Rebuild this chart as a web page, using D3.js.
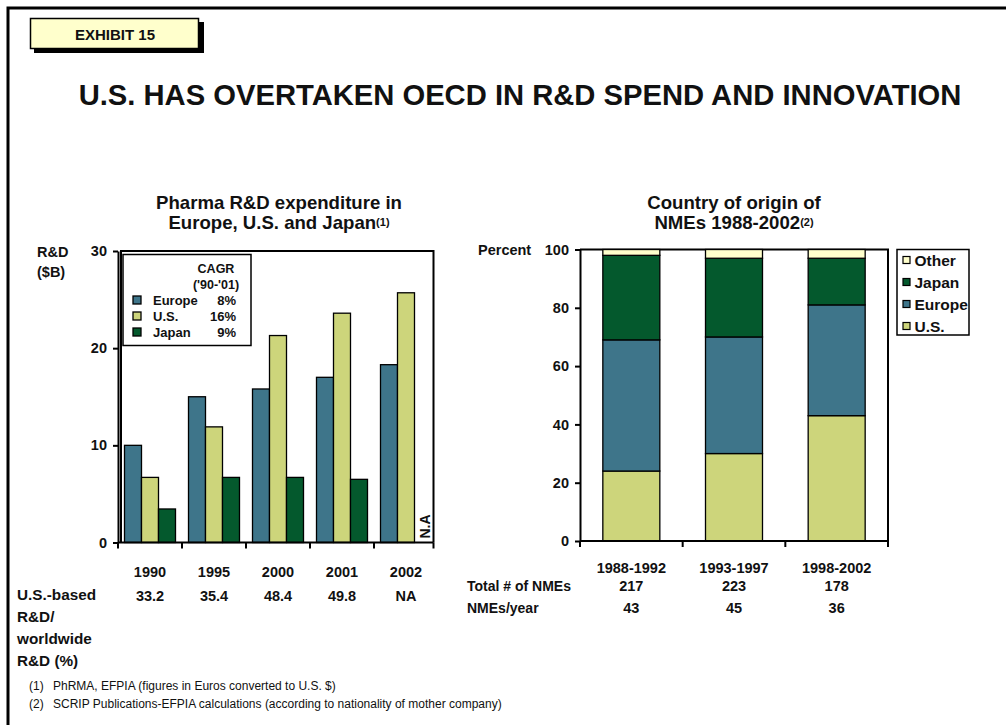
<!DOCTYPE html>
<html>
<head>
<meta charset="utf-8">
<script src="https://cdn.jsdelivr.net/npm/d3@7/dist/d3.min.js"></script>
<style>
  html, body { margin: 0; padding: 0; background: #fff; }
  svg { display: block; }
  text { font-family: "Liberation Sans", Arial, sans-serif; fill: #111; }
  .b { font-weight: bold; }
</style>
</head>
<body>
<svg id="chart" width="1006" height="725"></svg>
<script>
// ---- R&D expenditure ($B) ----
const years = ["1990", "1995", "2000", "2001", "2002"];
const europeSpend = [10.0, 15.0, 15.8, 17.0, 18.3];
const usSpend = [6.7, 11.9, 21.3, 23.6, 25.7];
const japanSpend = [3.45, 6.7, 6.7, 6.5, null];
const spendSeries = ["Europe", "U.S.", "Japan"];
const cagrLabels = ["8%", "16%", "9%"];
const usShareOfWorld = ["33.2", "35.4", "48.4", "49.8", "NA"];
const spendTicks = [0, 10, 20, 30];

// ---- Country of origin of NMEs (%) ----
const periods = ["1988-1992", "1993-1997", "1998-2002"];
const originUS = [24, 30, 43];
const originEurope = [45, 40, 38];
const originJapan = [29, 27, 16];
const originOther = [2, 3, 3];
const originSeries = ["U.S.", "Europe", "Japan", "Other"];
const totalNMEs = ["217", "223", "178"];
const nmesPerYear = ["43", "45", "36"];
const originTicks = [0, 20, 40, 60, 80, 100];

const colors = {
  "Europe": "#3e758a",
  "U.S.": "#cdd57b",
  "Japan": "#04592d",
  "Other": "#ffffcc"
};

const svg = d3.select("#chart");

// page frame (top and left rules)
svg.append("path").attr("d", "M8,725 L8,8 L1006,8")
  .attr("fill", "none").attr("stroke", "#000").attr("stroke-width", 3);

// exhibit tag with drop shadow
svg.append("rect").attr("x", 34).attr("y", 22).attr("width", 170).attr("height", 31).attr("fill", "#000");
svg.append("rect").attr("x", 30.5).attr("y", 18.5).attr("width", 168).attr("height", 30)
  .attr("fill", "#ffffcc").attr("stroke", "#000").attr("stroke-width", 1.5);
svg.append("text").attr("class", "b").attr("x", 115).attr("y", 40)
  .attr("text-anchor", "middle").attr("font-size", 15).text("EXHIBIT 15");

// headline
svg.append("text").attr("class", "b").attr("x", 520).attr("y", 104.5)
  .attr("text-anchor", "middle").attr("font-size", 29.2)
  .text("U.S. HAS OVERTAKEN OECD IN R&D SPEND AND INNOVATION");

function subtitle(cx, line1, line2, note) {
  const g = svg.append("g");
  g.append("text").attr("class", "b").attr("x", cx).attr("y", 209)
    .attr("text-anchor", "middle").attr("font-size", 18.6).text(line1);
  const t = g.append("text").attr("class", "b").attr("x", cx).attr("y", 229)
    .attr("text-anchor", "middle").attr("font-size", 18.6);
  t.append("tspan").text(line2);
  t.append("tspan").attr("font-size", 11).attr("dy", -3).text(note);
}
subtitle(279, "Pharma R&D expenditure in", "Europe, U.S. and Japan", "(1)");
subtitle(734, "Country of origin of", "NMEs 1988-2002", "(2)");

const labelSize = 14.5;

// ================= left chart: grouped bars =================
const yL = d3.scaleLinear().domain([0, 30]).range([542.5, 251]);
const x0L = d3.scaleBand().domain(years).range([118, 438]).padding(0);
const x1L = d3.scaleBand().domain(spendSeries).range([6.5, 57.5]).padding(0);

const spendRows = years.map((yr, i) => ({
  year: yr,
  values: [
    { key: "Europe", v: europeSpend[i] },
    { key: "U.S.", v: usSpend[i] },
    { key: "Japan", v: japanSpend[i] }
  ]
}));

const left = svg.append("g");

// plot frame
left.append("path").attr("d", `M121,${yL(0)} L121,${yL(30)} L433.5,${yL(30)} L433.5,${yL(0)}`)
  .attr("fill", "none").attr("stroke", "#000").attr("stroke-width", 2);

left.selectAll("g.grp").data(spendRows).join("g").attr("class", "grp")
  .attr("transform", d => `translate(${x0L(d.year)},0)`)
  .selectAll("rect").data(d => d.values.filter(v => v.v != null)).join("rect")
  .attr("x", d => x1L(d.key))
  .attr("width", x1L.bandwidth())
  .attr("y", d => yL(d.v))
  .attr("height", d => yL(0) - yL(d.v))
  .attr("fill", d => colors[d.key])
  .attr("stroke", "#000").attr("stroke-width", 1.3);

// missing Japan value for 2002
left.append("text").attr("class", "b").attr("font-size", 14)
  .attr("transform", `translate(${x0L("2002") + x1L("Japan") + x1L.bandwidth() / 2 + 6.5},${yL(0) - 4}) rotate(-90)`)
  .text("N.A");

// y axis
const yAxisL = left.append("g").attr("transform", "translate(118,0)")
  .call(d3.axisLeft(yL).tickValues(spendTicks).tickSize(5).tickSizeOuter(0).tickPadding(6));
yAxisL.select(".domain").attr("stroke-width", 2);
yAxisL.selectAll(".tick line").attr("stroke-width", 2);
yAxisL.selectAll("text").attr("class", "b").attr("font-size", labelSize)
  .attr("font-family", "Liberation Sans, Arial, sans-serif").attr("fill", "#111");

// x axis with ticks at category boundaries
left.append("line").attr("x1", 118).attr("x2", 433.5).attr("y1", yL(0)).attr("y2", yL(0))
  .attr("stroke", "#000").attr("stroke-width", 2);
const boundsL = years.map(d => x0L(d)).concat([433.5]);
left.selectAll("line.xt").data(boundsL).join("line").attr("class", "xt")
  .attr("x1", d => d).attr("x2", d => d).attr("y1", yL(0)).attr("y2", yL(0) + 6)
  .attr("stroke", "#000").attr("stroke-width", 2);

left.append("text").attr("class", "b").attr("x", 37).attr("y", 257).attr("font-size", labelSize).text("R&D");
left.append("text").attr("class", "b").attr("x", 37).attr("y", 277).attr("font-size", labelSize).text("($B)");

// legend
const legL = left.append("g");
legL.append("rect").attr("x", 123).attr("y", 254.5).attr("width", 128).attr("height", 91)
  .attr("fill", "#fff").attr("stroke", "#000").attr("stroke-width", 1.5);
legL.append("text").attr("class", "b").attr("x", 216).attr("y", 273).attr("text-anchor", "middle")
  .attr("font-size", 12.5).text("CAGR");
legL.append("text").attr("class", "b").attr("x", 216).attr("y", 289).attr("text-anchor", "middle")
  .attr("font-size", 12.5).text("('90-'01)");
const legRowsL = legL.selectAll("g.row").data(spendSeries).join("g").attr("class", "row")
  .attr("transform", (d, i) => `translate(0,${[300.5, 316.5, 332.5][i]})`);
legRowsL.append("rect").attr("x", 133).attr("y", -4.5).attr("width", 8).attr("height", 8)
  .attr("fill", d => colors[d]).attr("stroke", "#000").attr("stroke-width", 1.3);
legRowsL.append("text").attr("class", "b").attr("x", 153).attr("y", 4.5).attr("font-size", 13).text(d => d);
legRowsL.append("text").attr("class", "b").attr("x", 236).attr("y", 4.5).attr("text-anchor", "end")
  .attr("font-size", 13).text((d, i) => cagrLabels[i]);

// table under the chart
left.selectAll("text.yr").data(years).join("text").attr("class", "yr b")
  .attr("x", d => x0L(d) + x0L.bandwidth() / 2).attr("y", 577)
  .attr("text-anchor", "middle").attr("font-size", labelSize).text(d => d);
left.selectAll("text.share").data(usShareOfWorld).join("text").attr("class", "share b")
  .attr("x", (d, i) => x0L(years[i]) + x0L.bandwidth() / 2).attr("y", 601)
  .attr("text-anchor", "middle").attr("font-size", labelSize).text(d => d);
["U.S.-based", "R&D/", "worldwide", "R&D (%)"].forEach((s, i) => {
  left.append("text").attr("class", "b").attr("x", 17).attr("y", 600 + i * 22)
    .attr("font-size", 15.3).text(s);
});

// ================= right chart: stacked percent bars =================
const yR = d3.scaleLinear().domain([0, 100]).range([541, 249.5]);
const xR = d3.scaleBand().domain(periods).range([580, 888]).padding(0);
const barW = 57;

const originRows = periods.map((p, i) => ({
  period: p,
  "U.S.": originUS[i],
  "Europe": originEurope[i],
  "Japan": originJapan[i],
  "Other": originOther[i]
}));
const stacked = d3.stack().keys(originSeries)(originRows);

const right = svg.append("g");
right.append("path").attr("d", `M580,${yR(100)} L888,${yR(100)} L888,${yR(0)}`)
  .attr("fill", "none").attr("stroke", "#000").attr("stroke-width", 2);

right.selectAll("g.layer").data(stacked).join("g").attr("class", "layer")
  .attr("fill", d => colors[d.key])
  .selectAll("rect").data(d => d).join("rect")
  .attr("x", d => xR(d.data.period) + (xR.bandwidth() - barW) / 2)
  .attr("width", barW)
  .attr("y", d => yR(d[1]))
  .attr("height", d => yR(d[0]) - yR(d[1]))
  .attr("stroke", "#000").attr("stroke-width", 1.3);

const yAxisR = right.append("g").attr("transform", "translate(580,0)")
  .call(d3.axisLeft(yR).tickValues(originTicks).tickSize(5).tickSizeOuter(0).tickPadding(6));
yAxisR.select(".domain").attr("stroke-width", 2);
yAxisR.selectAll(".tick line").attr("stroke-width", 2);
yAxisR.selectAll("text").attr("class", "b").attr("font-size", labelSize)
  .attr("font-family", "Liberation Sans, Arial, sans-serif").attr("fill", "#111");

right.append("line").attr("x1", 580).attr("x2", 888).attr("y1", yR(0)).attr("y2", yR(0))
  .attr("stroke", "#000").attr("stroke-width", 2);
const boundsR = periods.map(d => xR(d)).concat([888]);
right.selectAll("line.xt").data(boundsR).join("line").attr("class", "xt")
  .attr("x1", d => d).attr("x2", d => d).attr("y1", yR(0)).attr("y2", yR(0) + 6)
  .attr("stroke", "#000").attr("stroke-width", 2);

right.append("text").attr("class", "b").attr("x", 478).attr("y", 255).attr("font-size", labelSize).text("Percent");

// legend (top entry first)
const legR = right.append("g");
legR.append("rect").attr("x", 897).attr("y", 249.5).attr("width", 72).attr("height", 85.5)
  .attr("fill", "#fff").attr("stroke", "#000").attr("stroke-width", 1.5);
const legOrder = originSeries.slice().reverse();
const legRowsR = legR.selectAll("g.row").data(legOrder).join("g").attr("class", "row")
  .attr("transform", (d, i) => `translate(0,${260 + i * 22})`);
legRowsR.append("rect").attr("x", 903).attr("y", -3.5).attr("width", 7).attr("height", 7)
  .attr("fill", d => colors[d]).attr("stroke", "#000").attr("stroke-width", 1.2);
legRowsR.append("text").attr("class", "b").attr("x", 914.5).attr("y", 5.5).attr("font-size", 15.5).text(d => d);

// table under the chart
right.selectAll("text.per").data(periods).join("text").attr("class", "per b")
  .attr("x", d => xR(d) + xR.bandwidth() / 2).attr("y", 573)
  .attr("text-anchor", "middle").attr("font-size", labelSize).text(d => d);
right.selectAll("text.tot").data(totalNMEs).join("text").attr("class", "tot b")
  .attr("x", (d, i) => xR(periods[i]) + xR.bandwidth() / 2).attr("y", 591)
  .attr("text-anchor", "middle").attr("font-size", labelSize).text(d => d);
right.selectAll("text.py").data(nmesPerYear).join("text").attr("class", "py b")
  .attr("x", (d, i) => xR(periods[i]) + xR.bandwidth() / 2).attr("y", 613)
  .attr("text-anchor", "middle").attr("font-size", labelSize).text(d => d);
right.append("text").attr("class", "b").attr("x", 467).attr("y", 591).attr("font-size", 14).text("Total # of NMEs");
right.append("text").attr("class", "b").attr("x", 467).attr("y", 613).attr("font-size", 14).text("NMEs/year");

// sources
const notes = [
  ["(1)", "PhRMA, EFPIA (figures in Euros converted to U.S. $)"],
  ["(2)", "SCRIP Publications-EFPIA calculations (according to nationality of mother company)"]
];
notes.forEach((n, i) => {
  svg.append("text").attr("x", 29).attr("y", 690 + i * 18).attr("font-size", 12).attr("fill", "#222").text(n[0]);
  svg.append("text").attr("x", 53).attr("y", 690 + i * 18).attr("font-size", 12).attr("fill", "#222").text(n[1]);
});
</script>
</body>
</html>
